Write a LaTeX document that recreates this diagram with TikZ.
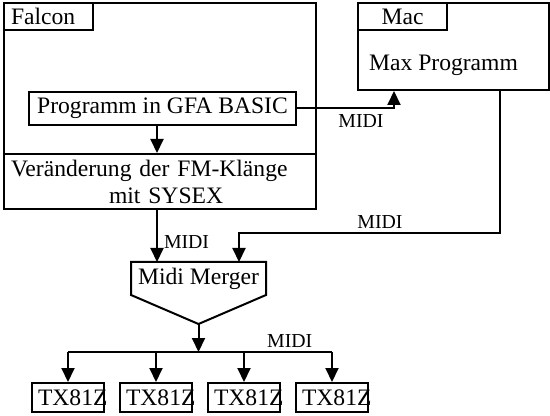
\documentclass[tikz,border=0pt]{standalone}
\usepackage{fontspec}
\setmainfont{Liberation Serif}
\usetikzlibrary{arrows.meta}

\begin{document}
\begin{tikzpicture}[x=0.5pt,y=-0.5pt,line width=1pt,>={Triangle[length=7pt,width=6.5pt]},
  font=\fontsize{11.8}{13.5}\selectfont,
  box/.style={draw,rectangle,inner sep=0pt},
  tag/.style={box,anchor=north west,minimum width=44.5pt,minimum height=13.5pt},
  txbox/.style={box,minimum width=36pt,minimum height=14.5pt},
  midi/.style={font=\fontsize{9.9}{11}\selectfont,inner sep=1.5pt}]
\useasboundingbox (0,0) rectangle (550,416);
% Falcon side
\node[box,anchor=north west,minimum width=156pt,minimum height=103pt] (falcon) at (3,2) {};
\node[tag,text width=37.5pt,align=left,inner xsep=3.5pt] (falconlbl) at (3,2) {Falcon};
\node[box,minimum width=133.5pt,minimum height=16.5pt] (prog) at (162.5,108.5) {Programm in GFA BASIC};
\node[box,anchor=north west,minimum width=156pt,minimum height=27.5pt,text width=149pt,inner xsep=3.5pt,align=left] (sysex) at (3,153) {Veränderung der FM-Klänge\\\hspace*{49pt}mit SYSEX};
% Mac side
\node[box,anchor=north west,minimum width=95.5pt,minimum height=43.5pt] (mac) at (357,2) {};
\node[tag] (maclbl) at (357,2) {Mac};
\node (maxprog) at (443.5,65) {Max Programm};
% merger
\node[minimum width=66.5pt,minimum height=15.5pt,inner sep=0pt] (merger) at (198.5,278.5) {Midi Merger};
\draw (merger.north west) -- (merger.north east) -- (merger.south east) -- ([yshift=-14.5pt]merger.south) coordinate (mtip) -- (merger.south west) -- cycle;
\coordinate (col) at (157,0);
\coordinate (bend) at (239,233);
\coordinate (bus) at (199,352);
% synths
\foreach \i/\x in {1/68,2/156,3/244,4/332}
  \node[txbox] (tx\i) at (\x,397.5) {\makebox[30pt][l]{TX81Z}};
% connections
\draw[->] (prog.south -| col) -- (sysex.north -| col);
\draw[->] (prog.east) -| node[midi,pos=0.33,below,yshift=-1pt] {MIDI} ([xshift=-29.75pt]mac.south);
\draw[->] ([xshift=23.25pt]mac.south) |- node[midi,pos=0.73,above] {MIDI} (bend) -- (bend |- merger.north);
\draw[->] (falcon.south -| col) -- (merger.north -| col) node[midi,pos=0.62,right,xshift=1.5pt] {MIDI};
\draw[->] (mtip) -- (mtip |- bus);
\draw (bus -| tx1) -- (bus -| tx4) node[midi,pos=0.84,above] {MIDI};
\foreach \i in {1,...,4}
  \draw[->] (bus -| tx\i) -- (tx\i.north);
\end{tikzpicture}
\end{document}
